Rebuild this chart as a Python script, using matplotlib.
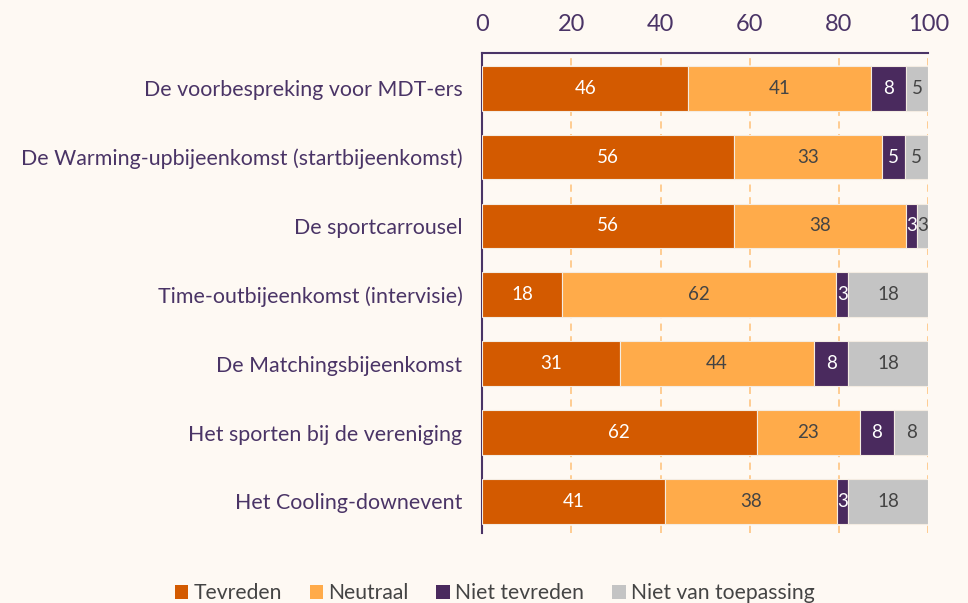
import numpy as np
import matplotlib.pyplot as plt
from matplotlib.patches import Patch

plt.rcParams['font.family'] = ['Lato', 'DejaVu Sans']

# ------------------------------数据------------------------------
categories = ['De voorbespreking voor MDT-ers',
              'De Warming-upbijeenkomst (startbijeenkomst)',
              'De sportcarrousel',
              'Time-outbijeenkomst (intervisie)',
              'De Matchingsbijeenkomst',
              'Het sporten bij de vereniging',
              'Het Cooling-downevent']
series_names = ['Tevreden', 'Neutraal', 'Niet tevreden', 'Niet van toepassing']
tevreden = [46.2, 56.4, 56.4, 17.9, 30.8, 61.5, 41.0]
neutraal = [41.0, 33.3, 38.5, 61.5, 43.6, 23.1, 38.5]
niet_tevreden = [7.7, 5.1, 2.6, 2.6, 7.7, 7.7, 2.6]
niet_van_toepassing = [5.1, 5.1, 2.6, 17.9, 17.9, 7.7, 17.9]
x_ticks = [0, 20, 40, 60, 80, 100]

# ------------------------------样式------------------------------
bg = '#fef9f3'
txt = '#4a3466'
colors = ['#d35a00', '#ffab4a', '#4a2a5e', '#c4c4c4']
label_colors = ['white', '#444444', 'white', '#444444']

fig = plt.figure(figsize=(9.68, 6.03), dpi=100, facecolor=bg)
ax = fig.add_axes([0.498, 0.116, 0.461, 0.796], facecolor=bg)

y = np.arange(len(categories))
left = np.zeros(len(categories))
for vals, name, c, lc in zip([tevreden, neutraal, niet_tevreden, niet_van_toepassing],
                             series_names, colors, label_colors):
    vals = np.array(vals)
    ax.barh(y, vals, left=left, height=0.65, color=c, edgecolor='#f4ece2',
            linewidth=0.8, zorder=3, label=name)
    for yi, l, v in zip(y, left, vals):
        ax.text(l + v / 2, yi, f'{v:.0f}', ha='center', va='center',
                color=lc, fontsize=13.5, zorder=4)
    left = left + vals

ax.set_xlim(0, 100)
ax.set_ylim(len(categories) - 0.54, -0.51)
ax.set_yticks(y)
ax.set_yticklabels(categories, fontsize=15.4, color=txt)
ax.set_xticks(x_ticks)
ax.xaxis.tick_top()
ax.tick_params(axis='x', length=0, pad=13, labelsize=17, labelcolor=txt)
ax.tick_params(axis='y', length=0, pad=14)

for v in x_ticks[1:]:
    ax.axvline(v, color='#ffc98a', linestyle=(0, (4, 3)), linewidth=1.3, zorder=1)

for s in ['right', 'bottom']:
    ax.spines[s].set_visible(False)
for s in ['left', 'top']:
    ax.spines[s].set_color(txt)
    ax.spines[s].set_linewidth(1.5)

handles = [Patch(facecolor=c, edgecolor='none') for c in colors]
fig.legend(handles, series_names, loc='center', bbox_to_anchor=(0.511, 0.016),
           ncol=4, frameon=False, fontsize=15.2, handlelength=0.65, handleheight=0.65,
           handletextpad=0.25, columnspacing=1.3, labelcolor='#444444')

fig.savefig('out.png', dpi=100, facecolor=bg)
